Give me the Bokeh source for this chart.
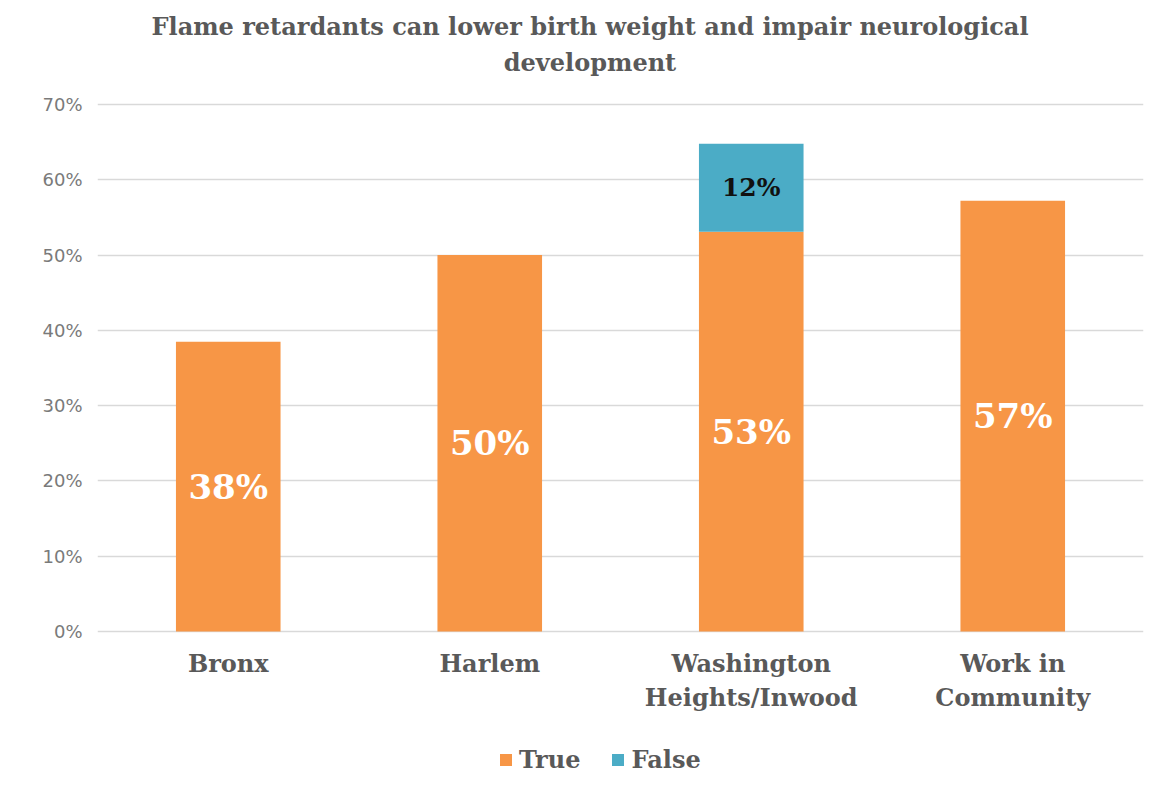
from bokeh.plotting import figure
from bokeh.models import (ColumnDataSource, FactorRange, Range1d, NumeralTickFormatter,
                          FixedTicker, Label, Legend, LegendItem)
from bokeh.core.properties import value
from bokeh.embed import file_html
from bokeh.resources import INLINE

# ---- data ----
categories = ["Bronx", "Harlem", "Washington\nHeights/Inwood", "Work in\nCommunity"]
true_vals = [0.385, 0.500, 0.531, 0.572]
false_vals = [0.0, 0.0, 0.117, 0.0]
true_labels = ["38%", "50%", "53%", "57%"]
false_labels = ["", "", "12%", ""]
y_ticks = [0.0, 0.1, 0.2, 0.3, 0.4, 0.5, 0.6, 0.7]
title_lines = ["Flame retardants can lower birth weight and impair neurological", "development"]

ORANGE = "#F79646"
BLUE = "#4BACC6"
GRAY = "#595959"
SERIF = "DejaVu Serif"

# ---- layout constants (pixels) ----
W, H = 1157, 795
LEFT, RIGHT = 97, 14
Y0_PX, Y70_PX = 631, 104            # screen rows of 0% and 70%
px_per_unit = (Y0_PX - Y70_PX) / 0.7
y_top = 0.7 + Y70_PX / px_per_unit
y_bot = -(H - Y0_PX) / px_per_unit

src = ColumnDataSource(dict(
    cat=categories,
    base=[0.0] * len(categories),
    true=true_vals,
    false=false_vals,
    true_mid=[v / 2 for v in true_vals],
    false_mid=[t + f / 2 for t, f in zip(true_vals, false_vals)],
    true_lbl=true_labels,
    false_lbl=false_labels,
))

p = figure(width=W, height=H, output_backend="svg", toolbar_location=None,
           x_range=FactorRange(*categories, range_padding=0),
           y_range=Range1d(y_bot, y_top),
           min_border_left=LEFT, min_border_right=RIGHT, min_border_top=0, min_border_bottom=0,
           outline_line_color=None, background_fill_color="white", border_fill_color="white")

r = p.vbar_stack(["true", "false"], x="cat", width=0.4, source=src,
                 color=[ORANGE, BLUE], line_color=None)

p.text(x="cat", y="true_mid", text="true_lbl", source=src,
       text_font=value(SERIF), text_font_style="bold", text_font_size="34px",
       text_color="white", text_align="center", text_baseline="middle")
p.text(x="cat", y="false_mid", text="false_lbl", source=src,
       text_font=value(SERIF), text_font_style="bold", text_font_size="25px",
       text_color="#111111", text_align="center", text_baseline="middle")

# category labels (drawn below the 0 line)
p.text(x="cat", y="base", text="cat", source=src, y_offset=17,
       text_font=value(SERIF), text_font_style="bold", text_font_size="24px",
       text_color=GRAY, text_align="center", text_baseline="top", text_line_height=1.19)

# axes
p.xaxis.visible = False
p.yaxis.axis_line_color = None
p.yaxis.major_tick_line_color = None
p.yaxis.minor_tick_line_color = None
p.yaxis.ticker = FixedTicker(ticks=y_ticks)
p.yaxis.formatter = NumeralTickFormatter(format="0%")
p.yaxis.major_label_text_font = "DejaVu Sans"
p.yaxis.major_label_text_font_size = "18px"
p.yaxis.major_label_text_color = "#7a7a7a"
p.yaxis.major_label_standoff = 9

p.xgrid.grid_line_color = None
p.ygrid.grid_line_color = "#d9d9d9"
p.ygrid.grid_line_width = 1.5

# title (two lines), centred over the chart
for line, row in zip(title_lines, [26, 62]):
    p.add_layout(Label(x=589.5 - LEFT, y=H - row, x_units="screen", y_units="screen",
                       text=line, text_font=SERIF, text_font_style="bold",
                       text_font_size="24px", text_color=GRAY,
                       text_align="center", text_baseline="middle"))

# legend
legend = Legend(items=[LegendItem(label="True", renderers=[r[0]]),
                       LegendItem(label="False", renderers=[r[1]])],
                orientation="horizontal", location=(401, 21),
                label_text_font=SERIF, label_text_font_style="bold",
                label_text_font_size="24px", label_text_color=GRAY,
                glyph_width=15, glyph_height=15, spacing=30, label_standoff=6,
                padding=0, margin=0,
                border_line_color=None, background_fill_alpha=0)
p.add_layout(legend, "center")

open("out.html", "w").write(file_html(p, INLINE))
